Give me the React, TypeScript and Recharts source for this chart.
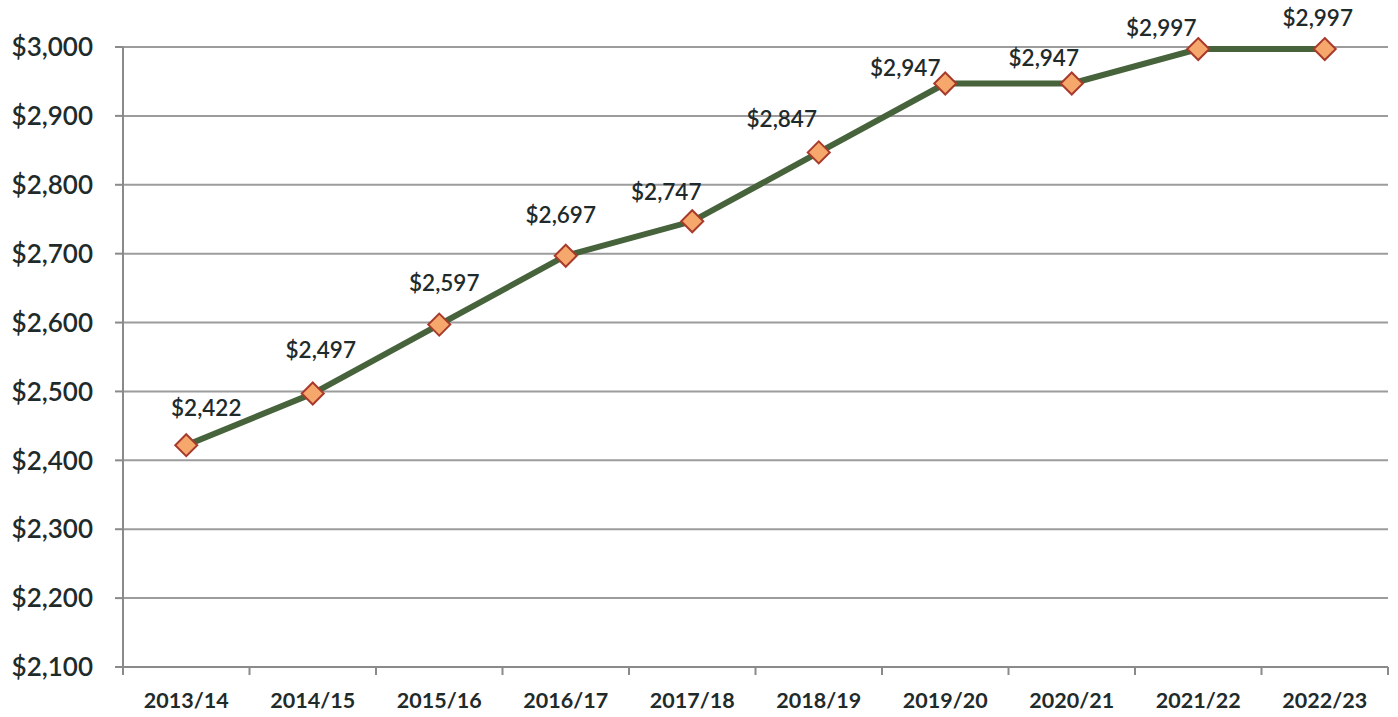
import { LineChart, Line, XAxis, YAxis, CartesianGrid, LabelList } from "recharts";

const years = [
  "2013/14",
  "2014/15",
  "2015/16",
  "2016/17",
  "2017/18",
  "2018/19",
  "2019/20",
  "2020/21",
  "2021/22",
  "2022/23",
];
const amounts = [2422, 2497, 2597, 2697, 2747, 2847, 2947, 2947, 2997, 2997];
const yTicks = [2100, 2200, 2300, 2400, 2500, 2600, 2700, 2800, 2900, 3000];

// label nudges (dx, dy from the marker), as placed in the original
const labelNudge = [
  [20, -38],
  [8, -44],
  [5, -42],
  [-5, -41],
  [-26, -30],
  [-37, -34],
  [-40, -16],
  [-28, -26],
  [-37, -22],
  [-7, -32],
];

const W = 1398;
const H = 717;
const M = { top: 47, right: 10, left: 0, bottom: 0 };
const Y_W = 123;
const BAND = (W - M.right - Y_W) / years.length;

const font = "Lato, 'Open Sans', sans-serif";
const ink = "#1f2b2b";

const data = years.map((year, i) => ({ year, value: amounts[i] }));

const fmt = (v: number) => "$" + v.toLocaleString("en-US");

function Diamond(props: any) {
  const { cx, cy } = props;
  if (cx == null || cy == null) return null;
  const r = 11;
  return (
    <polygon
      points={`${cx},${cy - r} ${cx + r},${cy} ${cx},${cy + r} ${cx - r},${cy}`}
      fill="#f6a86c"
      stroke="#a83a2c"
      strokeWidth={2}
    />
  );
}

function YearTick(props: any) {
  const { x, y, payload, index } = props;
  return (
    <g>
      {index === 0 && (
        <line x1={x - BAND / 2} x2={x - BAND / 2} y1={y} y2={y + 8} stroke="#8a8a8a" strokeWidth={2} />
      )}
      <line x1={x + BAND / 2} x2={x + BAND / 2} y1={y} y2={y + 8} stroke="#8a8a8a" strokeWidth={2} />
      <text
        x={x}
        y={y + 41}
        textAnchor="middle"
        fontFamily={font}
        fontWeight="bold"
        fontSize={21.5}
        fill={ink}
      >
        {payload.value}
      </text>
    </g>
  );
}

function PointLabel(props: any) {
  const { x, y, value, index } = props;
  const [dx, dy] = labelNudge[index] ?? [0, -30];
  return (
    <text
      x={x + dx}
      y={y + dy}
      textAnchor="middle"
      dominantBaseline="central"
      fontFamily={font}
      fontWeight={600}
      fontSize={22.5}
      fill={ink}
    >
      {fmt(Number(value))}
    </text>
  );
}

export default function App() {
  return (
    <div style={{ position: "absolute", left: 0, top: 0, background: "#fff" }}>
      <LineChart width={W} height={H} data={data} margin={M}>
        <CartesianGrid vertical={false} stroke="#9c9c9c" strokeWidth={2} />
        <XAxis
          dataKey="year"
          height={50}
          padding={{ left: BAND / 2, right: BAND / 2 }}
          tickSize={0}
          tickMargin={0}
          tickLine={false}
          axisLine={{ stroke: "#8a8a8a", strokeWidth: 2 }}
          tick={<YearTick />}
          interval={0}
        />
        <YAxis
          width={Y_W}
          domain={[2100, 3000]}
          ticks={yTicks}
          tickFormatter={fmt}
          tickSize={8}
          tickMargin={22}
          tickLine={{ stroke: "#8a8a8a", strokeWidth: 2 }}
          axisLine={{ stroke: "#8a8a8a", strokeWidth: 2 }}
          tick={{ fontSize: 26, fontFamily: font, fontWeight: 600, fill: ink }}
          interval={0}
        />
        <Line
          type="linear"
          dataKey="value"
          stroke="#46633b"
          strokeWidth={6}
          dot={<Diamond />}
          activeDot={false}
          isAnimationActive={false}
        >
          <LabelList dataKey="value" content={<PointLabel />} />
        </Line>
      </LineChart>
    </div>
  );
}
